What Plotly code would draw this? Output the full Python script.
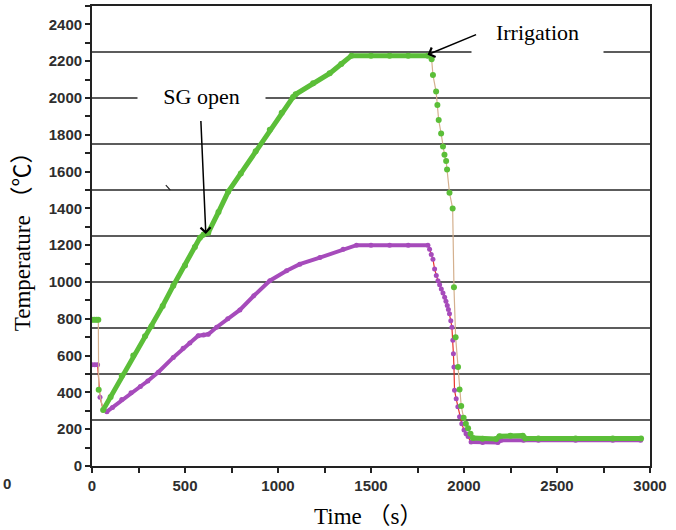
import numpy as np
import plotly.graph_objects as go

# ---- measured curves: time (s) and temperature (°C) ----
green_time = [0, 12, 24, 34, 36, 60, 100, 160, 222, 285, 320, 380, 437, 500, 553,
              580, 600, 625, 680, 732, 800, 880, 956, 1020, 1081, 1095, 1189, 1278, 1340,
              1395, 1500, 1600, 1700, 1806,
              1826, 1833, 1850, 1857, 1864, 1877, 1887, 1895, 1904, 1909, 1922, 1939,
              1946, 1955, 1968, 1976, 1985, 1998, 2010, 2022, 2035, 2048,
              2100, 2173, 2191, 2250, 2316, 2330, 2400, 2600, 2800, 2952]
green_temp = [795, 795, 795, 795, 415, 305, 375, 490, 600, 705, 760, 870, 980, 1090, 1190,
              1240, 1258, 1268, 1380, 1490, 1590, 1710, 1827, 1920, 2005, 2020, 2080, 2134, 2185,
              2230, 2230, 2230, 2230, 2230,
              2211, 2125, 2035, 1962, 1880, 1807, 1737, 1692, 1657, 1611, 1485, 1400,
              971, 700, 538, 416, 326, 262, 230, 205, 175, 152,
              148, 147, 162, 165, 165, 150, 150, 150, 150, 150]

purple_time = [0, 15, 30, 43, 60, 80, 110, 160, 210, 260, 300, 356, 437, 490, 526, 571,
               600, 625, 670, 730, 795, 870, 956, 1046, 1117, 1225, 1350, 1422, 1500,
               1600, 1700, 1806,
               1815, 1824, 1833, 1842, 1851, 1860, 1869, 1878, 1887, 1896, 1903, 1910,
               1916, 1922, 1929, 1935, 1940, 1943, 1946, 1949, 1958, 1967, 1976, 1988,
               2000, 2011, 2022, 2038,
               2100, 2182, 2200, 2320, 2400, 2600, 2800, 2950]
purple_temp = [550, 550, 550, 374, 305, 295, 318, 362, 398, 432, 462, 510, 590, 640, 668, 708,
               712, 716, 754, 800, 848, 925, 1007, 1061, 1097, 1133, 1178, 1200, 1200,
               1200, 1200, 1200,
               1178, 1150, 1124, 1070, 1035, 1007, 985, 962, 940, 917, 895, 872,
               850, 827, 790, 754, 683, 610, 538, 412, 365, 322, 268, 230,
               196, 175, 160, 130,
               128, 128, 140, 140, 140, 140, 140, 140]

# time spans where each curve is drawn as a dense, continuous trace
green_dense = [(0, 34), (60, 1806), (2048, 3000)]
purple_dense = [(0, 30), (80, 1806), (2038, 3000)]

x_ticks = [0, 500, 1000, 1500, 2000, 2500, 3000]
y_ticks = list(range(0, 2401, 200))
grid_levels = [250, 500, 750, 1000, 1250, 1500, 1750, 2000, 2250]

GREEN = "#5BBE38"
PURPLE = "#A64BBB"
TAN = "#D4B08E"
RED = "#E8302A"


def dense_part(t, v, spans):
    t = np.asarray(t, float)
    v = np.asarray(v, float)
    keep = np.zeros(len(t), bool)
    for a, b in spans:
        keep |= (t >= a) & (t <= b)
    return t, np.where(keep, v, np.nan)


fig = go.Figure()

# purple curve: thin red connector with dots, thick body on the slow parts
fig.add_trace(go.Scatter(x=purple_time, y=purple_temp, mode="lines+markers",
                         line=dict(color=RED, width=1.2),
                         marker=dict(color=PURPLE, size=5), showlegend=False))
pt, pv = dense_part(purple_time, purple_temp, purple_dense)
fig.add_trace(go.Scatter(x=pt, y=pv, mode="lines", connectgaps=False,
                         line=dict(color=PURPLE, width=4), showlegend=False))

# green curve: thin tan connector with dots, thick body on the slow parts
fig.add_trace(go.Scatter(x=green_time, y=green_temp, mode="lines+markers",
                         line=dict(color=TAN, width=1.2),
                         marker=dict(color=GREEN, size=6), showlegend=False))
gt, gv = dense_part(green_time, green_temp, green_dense)
fig.add_trace(go.Scatter(x=gt, y=gv, mode="lines", connectgaps=False,
                         line=dict(color=GREEN, width=5), showlegend=False))

# horizontal reference lines
for lvl in grid_levels:
    fig.add_shape(type="line", xref="paper", x0=0, x1=1, yref="y", y0=lvl, y1=lvl,
                  line=dict(color="#262626", width=1.6), layer="below")

# small stray pen mark
fig.add_shape(type="line", xref="x", yref="y", x0=397, y0=1526, x1=421, y1=1499,
              line=dict(color="#222", width=1.2))

tick_font = dict(family="Liberation Sans, Arial", size=15, color="#2e2e2e", weight="bold")
serif = "Liberation Serif, Times New Roman, Noto Sans CJK SC"

fig.update_layout(
    width=676, height=530,
    margin=dict(l=92, r=26, t=4, b=64, pad=0),
    paper_bgcolor="white", plot_bgcolor="white",
    xaxis=dict(range=[0, 3000], tickvals=x_ticks, ticks="outside", ticklen=5,
               tickwidth=1.5, tickcolor="#222", showline=True, linecolor="#222",
               linewidth=1.8, mirror=True, showgrid=False, zeroline=False,
               tickfont=tick_font,
               minor=dict(dtick=250, ticks="outside", ticklen=5, tickwidth=1.5,
                          tickcolor="#222")),
    yaxis=dict(range=[0, 2500], tickvals=y_ticks, ticks="outside", ticklen=5,
               tickwidth=1.5, tickcolor="#222", showline=True, linecolor="#222",
               linewidth=1.8, mirror=True, showgrid=False, zeroline=False,
               tickfont=tick_font,
               minor=dict(dtick=100, ticks="outside", ticklen=5, tickwidth=1.5,
                          tickcolor="#222")),
)

# axis titles
fig.add_annotation(text="Temperature （℃）", xref="paper", yref="paper",
                   x=-0.125, y=0.5, xanchor="center", yanchor="middle",
                   textangle=-90, showarrow=False,
                   font=dict(family=serif, size=23, color="black"))
fig.add_annotation(text="Time （s）", xref="paper", yref="paper",
                   x=0.495, y=-0.11, xanchor="center", yanchor="middle",
                   showarrow=False, font=dict(family=serif, size=23, color="black"))

# callouts with white boxes that interrupt the reference lines
fig.add_annotation(text="SG open", xref="x", yref="y", x=590, y=2010,
                   xanchor="center", yanchor="middle", showarrow=False,
                   width=127, height=36, bgcolor="white", borderpad=0,
                   font=dict(family=serif, size=22, color="black"))
fig.add_annotation(text="", xref="x", yref="y", x=612, y=1261,
                   axref="x", ayref="y", ax=585, ay=1883, showarrow=True,
                   arrowhead=4, arrowsize=1.3, arrowwidth=1.5, arrowcolor="black")

fig.add_annotation(text="Irrigation", xref="x", yref="y", x=2395, y=2355,
                   xanchor="center", yanchor="middle", showarrow=False,
                   width=131, height=45, bgcolor="white", borderpad=0,
                   font=dict(family=serif, size=22, color="black"))
fig.add_annotation(text="", xref="x", yref="y", x=1804, y=2235,
                   axref="x", ayref="y", ax=2073, ay=2348, showarrow=True,
                   arrowhead=4, arrowsize=1.3, arrowwidth=1.5, arrowcolor="black")

# label at the lower left edge
fig.add_annotation(text="0", xref="paper", yref="paper", x=-0.163, y=-0.038,
                   xanchor="left", yanchor="middle", showarrow=False,
                   font=tick_font)

fig.write_html("out.html")
